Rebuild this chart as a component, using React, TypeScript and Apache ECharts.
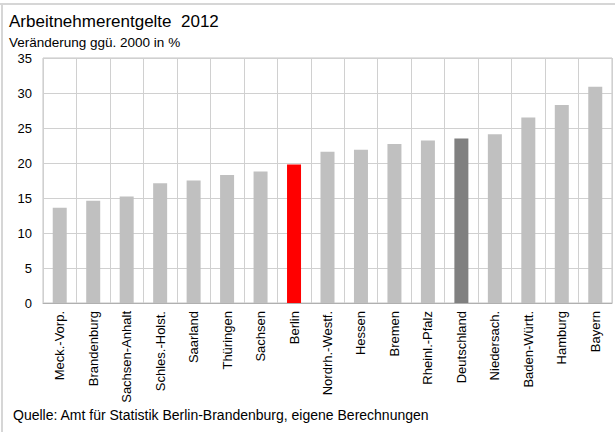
import React, { useEffect, useRef } from "react";
import * as echarts from "echarts";

const categories = [
  "Meck.-Vorp.", "Brandenburg", "Sachsen-Anhalt", "Schles.-Holst.", "Saarland",
  "Thüringen", "Sachsen", "Berlin", "Nordrh.-Westf.", "Hessen", "Bremen",
  "Rheinl.-Pfalz", "Deutschland", "Niedersach.", "Baden-Württ.", "Hamburg", "Bayern",
];
const values = [13.6, 14.6, 15.2, 17.1, 17.5, 18.3, 18.8, 19.8, 21.6, 21.9, 22.7, 23.2, 23.5, 24.1, 26.5, 28.3, 30.9];
const highlightRed = "Berlin";
const highlightDark = "Deutschland";

const titleText = "Arbeitnehmerentgelte  2012";
const subtitleText = "Veränderung ggü. 2000 in %";
const sourceText = "Quelle: Amt für Statistik Berlin-Brandenburg, eigene Berechnungen";

const FONT = "'Liberation Sans', Arial, sans-serif";

export default function App() {
  const ref = useRef<HTMLDivElement>(null);
  useEffect(() => {
    if (!ref.current) return;
    const chart = echarts.init(ref.current, null, { renderer: "svg" });
    const data = categories.map((c, i) => ({
      value: values[i],
      itemStyle: {
        color: c === highlightRed ? "#ff0000" : c === highlightDark ? "#808080" : "#c0c0c0",
      },
    }));
    chart.setOption({
      animation: false,
      backgroundColor: "#ffffff",
      textStyle: { fontFamily: FONT },
      title: [
        {
          text: titleText,
          left: 4,
          top: 8,
          textStyle: { fontFamily: FONT, fontSize: 17, fontWeight: "normal", color: "#000" },
        },
        {
          text: subtitleText,
          left: 4,
          top: 30,
          textStyle: { fontFamily: FONT, fontSize: 13.5, fontWeight: "normal", color: "#000" },
        },
      ],
      graphic: [
        { type: "rect", shape: { x: 0, y: 3, width: 615, height: 2 }, style: { fill: "#d6d6d6" } },
        { type: "rect", shape: { x: 1, y: 3, width: 2, height: 429 }, style: { fill: "#d6d6d6" } },
        {
          type: "text",
          x: 13,
          y: 415,
          style: {
            text: sourceText,
            fontFamily: FONT,
            fontSize: 14,
            fill: "#000",
            verticalAlign: "middle",
          },
        },
      ],
      grid: { left: 43, top: 58, right: 3, bottom: 129, show: true, borderColor: "#c4c4c4", borderWidth: 1 },
      xAxis: {
        type: "category",
        data: categories,
        boundaryGap: true,
        axisLine: { show: true, lineStyle: { color: "#b0b0b0" } },
        axisTick: { show: false },
        splitLine: { show: true, interval: 0, lineStyle: { color: "#d0d0d0", width: 1 } },
        axisLabel: {
          rotate: 90,
          interval: 0,
          margin: 8,
          fontSize: 13,
          color: "#000",
          fontFamily: FONT,
        },
      },
      yAxis: {
        type: "value",
        min: 0,
        max: 35,
        interval: 5,
        axisLine: { show: false },
        axisTick: { show: false },
        splitLine: { show: true, lineStyle: { color: "#d0d0d0", width: 1 } },
        axisLabel: { fontSize: 13, color: "#000", margin: 11, fontFamily: FONT },
      },
      series: [
        {
          type: "bar",
          data,
          barWidth: 14,
        },
      ],
    });
    return () => chart.dispose();
  }, []);
  return (
    <div
      ref={ref}
      style={{ position: "fixed", left: 0, top: 0, width: 615, height: 432 }}
    />
  );
}
